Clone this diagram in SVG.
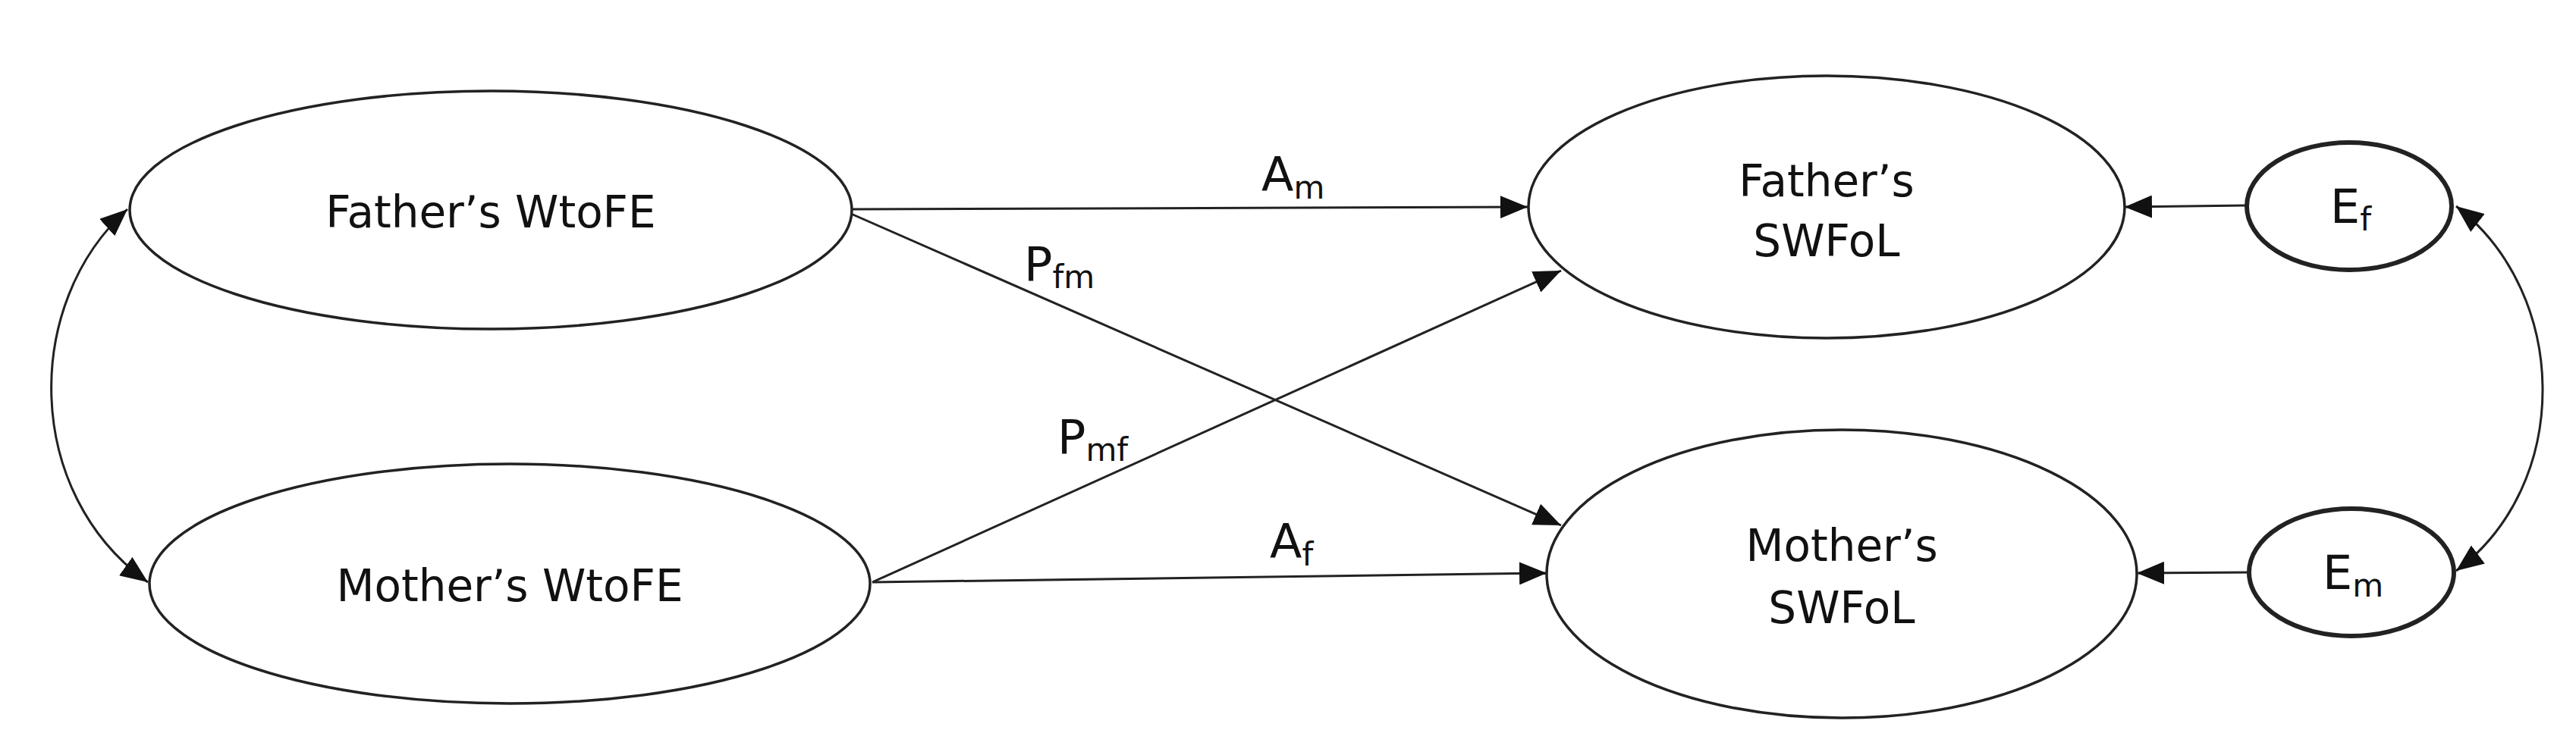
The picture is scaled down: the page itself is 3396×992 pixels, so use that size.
<svg xmlns="http://www.w3.org/2000/svg" width="3396" height="992" viewBox="0 0 3396 992">
<style>
.n{fill:#fff;stroke:#222;stroke-width:3.5}
.e{fill:#fff;stroke:#222;stroke-width:6}
.t{font-family:"DejaVu Sans",Verdana,sans-serif;font-size:58px;fill:#111;text-anchor:middle}
.l{font-family:"DejaVu Sans",Verdana,sans-serif;font-size:62px;fill:#111}
.s{font-size:42px}
.c{fill:none;stroke:#222;stroke-width:3}
</style>
<defs>
<marker id="a" markerUnits="userSpaceOnUse" markerWidth="36" markerHeight="30" viewBox="0 0 36 30" refX="36" refY="15" orient="auto-start-reverse"><path d="M0,0L36,15L0,30z" fill="#111"/></marker>
</defs>
<g id="connectors">
<path class="c" d="M1122,276L2014,273" marker-end="url(#a)"/>
<path class="c" d="M1122,282L2058,693" marker-end="url(#a)"/>
<path class="c" d="M1150,768L2058,357" marker-end="url(#a)"/>
<path class="c" d="M1150,768L2039,756" marker-end="url(#a)"/>
<path class="c" d="M2961,271L2801,273" marker-end="url(#a)"/>
<path class="c" d="M2966,755L2817,756" marker-end="url(#a)"/>
<path class="c" d="M168,276C30,400 30,650 195,768" marker-start="url(#a)" marker-end="url(#a)"/>
<path class="c" d="M3238,272C3390,390 3390,640 3238,753" marker-start="url(#a)" marker-end="url(#a)"/>
<text class="l" x="1663" y="252">A<tspan class="s" dy="10">m</tspan></text>
<text class="l" x="1350" y="370">P<tspan class="s" dy="10">fm</tspan></text>
<text class="l" x="1394" y="598">P<tspan class="s" dy="10">mf</tspan></text>
<text class="l" x="1674" y="736">A<tspan class="s" dy="10">f</tspan></text>
</g>
<g id="father-wtofe"><ellipse class="n" cx="647" cy="277" rx="476" ry="157"/><text class="t" x="647" y="300">Father’s WtoFE</text></g>
<g id="mother-wtofe"><ellipse class="n" cx="672" cy="770" rx="475" ry="158"/><text class="t" x="672" y="793">Mother’s WtoFE</text></g>
<g id="father-swfol"><ellipse class="n" cx="2408" cy="273" rx="393" ry="173"/><text class="t" x="2408" y="259">Father’s</text><text class="t" x="2408" y="338">SWFoL</text></g>
<g id="mother-swfol"><ellipse class="n" cx="2428" cy="757" rx="389" ry="190"/><text class="t" x="2428" y="740">Mother’s</text><text class="t" x="2428" y="822">SWFoL</text></g>
<g id="ef"><ellipse class="e" cx="3097" cy="272" rx="135" ry="84"/><text class="l" x="3072" y="294">E<tspan class="s" dy="10">f</tspan></text></g>
<g id="em"><ellipse class="e" cx="3100" cy="755" rx="135" ry="84"/><text class="l" x="3062" y="777">E<tspan class="s" dy="10">m</tspan></text></g>
</svg>
